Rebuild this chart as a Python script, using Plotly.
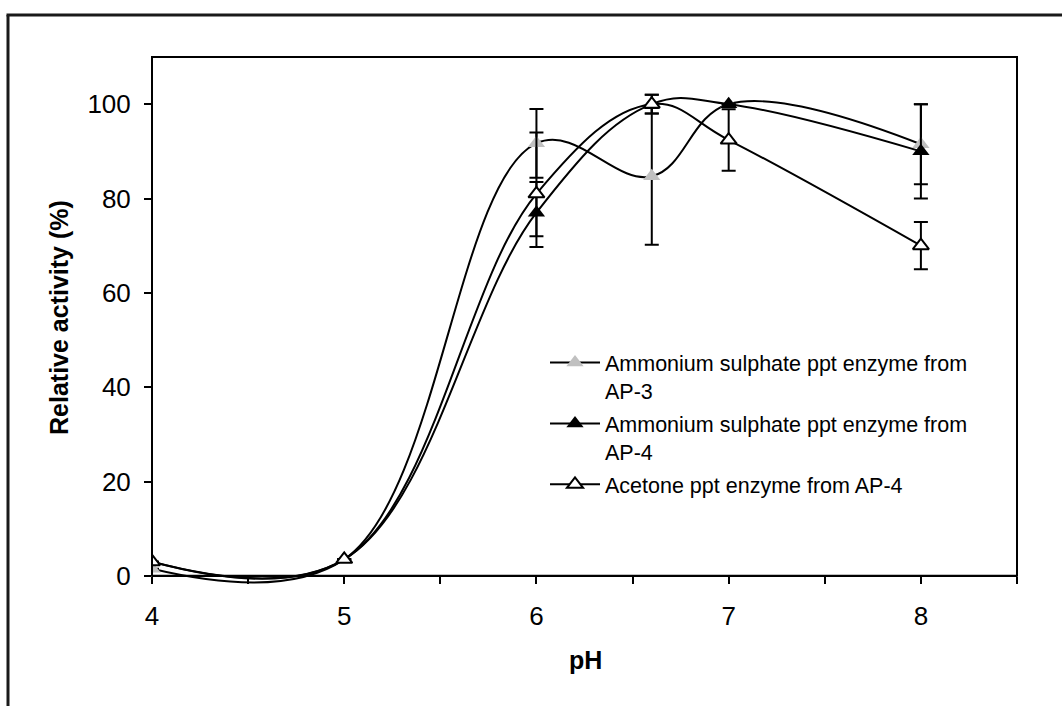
import plotly.graph_objects as go

# pH values tested
ph = [4, 5, 6, 6.6, 7, 8]

# Ammonium sulphate ppt enzyme from AP-3
ap3_amm = [1.5, 3.5, 91.7, 84.7, 100, 91.5]
ap3_amm_err = [None, None, 7.3, 14.5, None, 8.5]

# Ammonium sulphate ppt enzyme from AP-4
ap4_amm = [3, 3.5, 77, 100, 100, 90]
ap4_amm_err_plus = [None, None, 6.5, 2, None, 10]
ap4_amm_err_minus = [None, None, 7.3, 2, None, 10]

# Acetone ppt enzyme from AP-4
ap4_ace = [3, 3.5, 81, 100, 92.4, 70]
ap4_ace_err_plus = [None, None, 13, 2, 6.5, 5]
ap4_ace_err_minus = [None, None, 9, 2, 6.5, 5]

x_ticks = [4, 5, 6, 7, 8]
y_ticks = [0, 20, 40, 60, 80, 100]

FONT = "Liberation Sans, Arial, sans-serif"
WIDTH, HEIGHT = 1062, 706
L, R, T, B = 152, 45, 57, 116
PW, PH = WIDTH - L - R, HEIGHT - T - B
Y_MIN, Y_MAX = -3, 110


def paper_x(px):
    return (px - L) / PW


def paper_y(py):
    return (HEIGHT - B - py) / PH


zero_y = (0 - Y_MIN) / (Y_MAX - Y_MIN)

err_style = dict(type="data", color="black", thickness=2, width=7)
line_style = dict(color="black", width=2, shape="spline", smoothing=1.1)

fig = go.Figure()
fig.add_trace(go.Scatter(
    x=ph, y=ap3_amm, mode="lines+markers",
    name="Ammonium sulphate ppt enzyme from<br>AP-3", legendgroup="a",
    line=line_style,
    marker=dict(symbol="triangle-up", size=15, color="#c0c0c0",
                line=dict(width=0)),
    error_y=dict(array=ap3_amm_err, symmetric=True, **err_style),
))
fig.add_trace(go.Scatter(
    x=ph, y=ap4_amm, mode="lines+markers",
    name="Ammonium sulphate ppt enzyme from<br>AP-4", legendgroup="b",
    line=line_style,
    marker=dict(symbol="triangle-up", size=15, color="black",
                line=dict(width=0)),
    error_y=dict(array=ap4_amm_err_plus, arrayminus=ap4_amm_err_minus,
                 symmetric=False, **err_style),
))
fig.add_trace(go.Scatter(
    x=ph, y=ap4_ace, mode="lines+markers",
    name="Acetone ppt enzyme from AP-4", legendgroup="c",
    line=line_style,
    marker=dict(symbol="triangle-up", size=14, color="white",
                line=dict(width=2, color="black")),
    error_y=dict(array=ap4_ace_err_plus, arrayminus=ap4_ace_err_minus,
                 symmetric=False, **err_style),
))

shapes = [
    # plot area frame (bottom edge sits at y = 0)
    dict(type="rect", xref="paper", yref="paper", x0=0, x1=1, y0=zero_y, y1=1,
         line=dict(color="black", width=2), layer="above"),
    # outer border
    dict(type="line", xref="paper", yref="paper",
         x0=paper_x(8), x1=paper_x(8), y0=paper_y(15), y1=paper_y(720),
         line=dict(color="#1a1a1a", width=3)),
    dict(type="line", xref="paper", yref="paper",
         x0=paper_x(6.5), x1=paper_x(1070), y0=paper_y(15), y1=paper_y(15),
         line=dict(color="#1a1a1a", width=3)),
]

annotations = [
    dict(text="<b>Relative activity (%)</b>", xref="paper", yref="paper",
         x=paper_x(59), y=paper_y(318), textangle=-90, showarrow=False,
         font=dict(family=FONT, size=25, color="black"),
         xanchor="center", yanchor="middle"),
    dict(text="<b>pH</b>", xref="paper", yref="paper",
         x=paper_x(585), y=paper_y(660), showarrow=False,
         font=dict(family=FONT, size=25, color="black"),
         xanchor="center", yanchor="middle"),
]

fig.update_layout(
    width=WIDTH, height=HEIGHT,
    margin=dict(l=L, r=R, t=T, b=B, autoexpand=False),
    paper_bgcolor="white", plot_bgcolor="white",
    font=dict(family=FONT, size=21, color="black"),
    showlegend=True,
    legend=dict(
        x=paper_x(545), y=paper_y(342), xanchor="left", yanchor="top",
        bgcolor="rgba(255,255,255,0)", borderwidth=0,
        font=dict(family=FONT, size=21.5, color="black"),
        valign="top", itemwidth=50, tracegroupgap=2,
    ),
    xaxis=dict(
        range=[4, 8.5], anchor="free", position=zero_y,
        tickmode="array", tickvals=x_ticks,
        ticks="outside", ticklen=7, tickwidth=2, tickcolor="black",
        minor=dict(dtick=0.5, tick0=4, ticks="outside", ticklen=7,
                   tickwidth=2, tickcolor="black"),
        showline=True, linecolor="black", linewidth=2,
        showgrid=False, zeroline=False,
        tickfont=dict(family=FONT, size=26, color="black"),
        ticklabelstandoff=10,
    ),
    yaxis=dict(
        range=[Y_MIN, Y_MAX],
        tickmode="array", tickvals=y_ticks,
        ticks="outside", ticklen=7, tickwidth=2, tickcolor="black",
        showline=False, showgrid=False, zeroline=False,
        tickfont=dict(family=FONT, size=26, color="black"),
        ticklabelstandoff=8,
    ),
    shapes=shapes,
    annotations=annotations,
)

fig.write_html("out.html")
